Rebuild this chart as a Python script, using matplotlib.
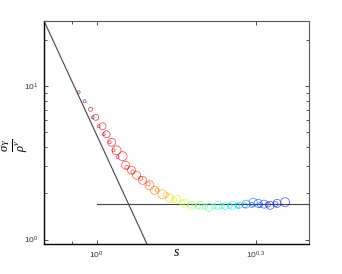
import numpy as np
import matplotlib
matplotlib.use("Agg")
import matplotlib.pyplot as plt
from matplotlib.ticker import FixedLocator, NullFormatter, LogLocator


# ------------------------------------------------------------
# Data
# ------------------------------------------------------------
# large markers
s_big = [0.996, 1.026, 1.044, 1.067, 1.090, 1.119, 1.134, 1.163, 1.189, 1.220,
         1.257, 1.285, 1.330, 1.371, 1.413, 1.462, 1.507, 1.567, 1.629, 1.694,
         1.746, 1.800, 1.855, 1.911, 1.971, 2.014, 2.066, 2.120, 2.186, 2.263]
y_big = [6.25, 5.47, 4.85, 4.30, 3.81, 3.49, 3.05, 2.83, 2.62, 2.43,
         2.26, 2.09, 1.97, 1.86, 1.83, 1.72, 1.67, 1.67, 1.62, 1.67,
         1.65, 1.67, 1.67, 1.70, 1.75, 1.72, 1.70, 1.67, 1.72, 1.75]
r_big = [3.0, 3.5, 3.5, 4.0, 4.5, 4.5, 4.0, 4.0, 4.0, 4.0,
         4.5, 4.0, 4.5, 4.0, 4.0, 4.0, 4.0, 4.0, 4.0, 4.0,
         3.5, 4.0, 3.0, 4.0, 4.0, 4.0, 4.0, 4.0, 4.0, 4.5]
c_big = [0.96, 0.94, 0.93, 0.92, 0.91, 0.90, 0.89, 0.88, 0.87, 0.86,
         0.84, 0.80, 0.75, 0.70, 0.65, 0.60, 0.55, 0.50, 0.46, 0.42,
         0.39, 0.36, 0.32, 0.26, 0.22, 0.20, 0.18, 0.16, 0.15, 0.14]

# small markers
s_small = [0.925, 0.949, 0.974, 0.983, 1.009, 1.031, 1.058, 1.076, 1.095,
           1.14, 1.17, 1.21, 1.25, 1.30, 1.35, 1.40, 1.45, 1.50, 1.55,
           1.60, 1.66, 1.72, 1.78, 1.84, 1.90, 1.96, 2.03, 2.10, 2.17]
y_small = [9.10, 7.95, 7.05, 6.25, 5.47, 4.85, 4.30, 3.81, 3.44,
           2.95, 2.75, 2.50, 2.30, 2.10, 1.95, 1.82, 1.74, 1.68, 1.65,
           1.64, 1.64, 1.65, 1.66, 1.66, 1.67, 1.68, 1.68, 1.69, 1.70]
r_small = [1.5, 1.5, 2.0, 1.5, 1.5, 1.5, 1.5, 1.5, 1.5,
           2.0, 2.0, 2.0, 2.0, 2.0, 2.5, 2.5, 2.5, 2.5, 2.5,
           2.5, 2.5, 2.5, 2.5, 2.5, 2.5, 2.5, 2.5, 2.5, 2.5]
c_small = [1.00, 0.99, 0.98, 0.96, 0.94, 0.93, 0.92, 0.91, 0.90,
           0.88, 0.87, 0.86, 0.84, 0.78, 0.72, 0.66, 0.60, 0.54, 0.50,
           0.46, 0.42, 0.38, 0.34, 0.30, 0.24, 0.20, 0.18, 0.16, 0.15]

# reference lines
steep_amp = 4.8
steep_exp = -7.5
plateau_y = 1.71
plateau_x = [1.0, 2.51]

X_LIM = (0.796, 2.51)
Y_LIM = (0.935, 26.7)


# ------------------------------------------------------------
# Figure
# ------------------------------------------------------------
plt.rcParams["font.family"] = ["Liberation Sans", "DejaVu Sans"]
plt.rcParams["mathtext.fontset"] = "custom"
plt.rcParams["mathtext.rm"] = "Liberation Sans"
plt.rcParams["mathtext.it"] = "Liberation Serif:italic"

fig = plt.figure(figsize=(3.42, 2.74), dpi=100)
ax = fig.add_axes([44 / 342, 1 - 244 / 274, 265 / 342, 223.5 / 274])

cmap = matplotlib.colormaps["jet"]


def px_to_s(r):
    return (2 * r * 0.72) ** 2


ax.scatter(s_big, y_big, s=[px_to_s(r) for r in r_big], facecolors="none",
           edgecolors=[cmap(c) for c in c_big], linewidths=0.5, alpha=0.75,
           zorder=3)
ax.scatter(s_small, y_small, s=[px_to_s(r) for r in r_small], facecolors="none",
           edgecolors=[cmap(c) for c in c_small], linewidths=0.5, alpha=0.75,
           zorder=3)

xs = np.linspace(X_LIM[0], 1.3, 50)
ax.plot(xs, steep_amp * xs ** steep_exp, color="#444444", lw=0.8, zorder=2)
ax.plot(plateau_x, [plateau_y, plateau_y], color="#444444", lw=0.8, zorder=2)

ax.set_xscale("log")
ax.set_yscale("log")
ax.set_xlim(*X_LIM)
ax.set_ylim(*Y_LIM)

ax.xaxis.set_major_locator(FixedLocator([1.0, 10 ** 0.3]))
ax.xaxis.set_minor_locator(FixedLocator([0.9]))
ax.xaxis.set_minor_formatter(NullFormatter())
ax.set_xticklabels([r"$10^{0}$", r"$10^{0.3}$"])

ax.yaxis.set_major_locator(FixedLocator([1.0, 10.0]))
ax.yaxis.set_minor_locator(LogLocator(base=10, subs=np.arange(2, 10)))
ax.yaxis.set_minor_formatter(NullFormatter())
ax.set_yticklabels([r"$10^{0}$", r"$10^{1}$"])

ax.tick_params(which="both", direction="in", top=True, right=True,
               labelsize=6, labelcolor="#333333", color="#333333", pad=4)
ax.tick_params(which="major", length=3, width=0.6)
ax.tick_params(which="minor", length=2, width=0.6)

for side in ["bottom", "left"]:
    ax.spines[side].set_color("black")
    ax.spines[side].set_linewidth(1.0)
for side in ["top", "right"]:
    ax.spines[side].set_color("#555555")
    ax.spines[side].set_linewidth(0.8)

fig.text(176 / 342, 1 - 252 / 274, r"$s$", fontsize=10, ha="center", va="center")
fig.text(15 / 342, 1 - 145 / 274, r"$\frac{\sigma_Y}{\rho^\nu}$", fontsize=13,
         rotation=90, ha="center", va="center")

plt.savefig("out.png", dpi=100)
plt.close()
